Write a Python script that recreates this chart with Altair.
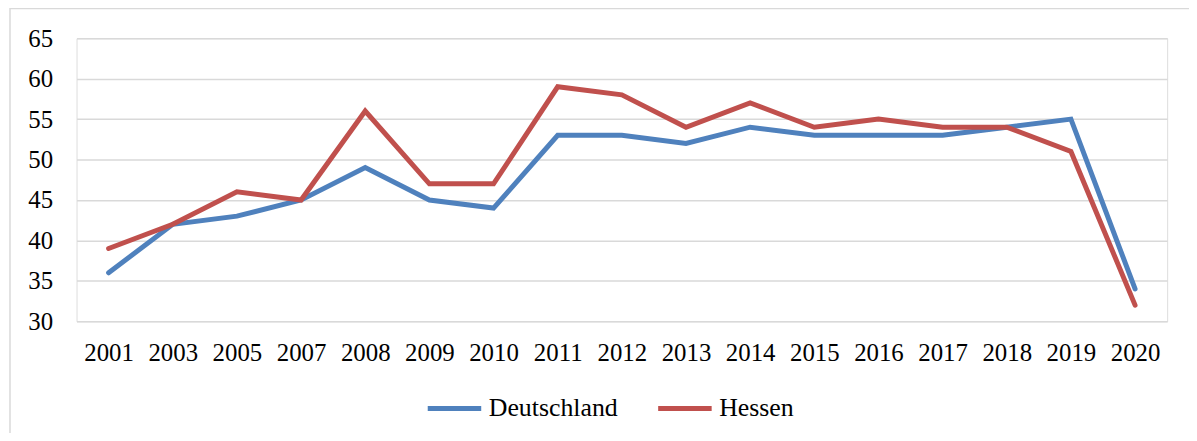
import altair as alt
import pandas as pd

years = ["2001", "2003", "2005", "2007", "2008", "2009", "2010", "2011", "2012",
         "2013", "2014", "2015", "2016", "2017", "2018", "2019", "2020"]
deutschland = [36, 42, 43, 45, 49, 45, 44, 53, 53, 52, 54, 53, 53, 53, 54, 55, 34]
hessen = [39, 42, 46, 45, 56, 47, 47, 59, 58, 54, 57, 54, 55, 54, 54, 51, 32]
series = ["Deutschland", "Hessen"]
colors = ["#4F81BD", "#C0504D"]

rows = []
for y, d, h in zip(years, deutschland, hessen):
    rows.append({"Jahr": y, "Region": series[0], "Wert": d})
    rows.append({"Jahr": y, "Region": series[1], "Wert": h})
df = pd.DataFrame(rows)

FONT = "Liberation Serif"

lines = alt.Chart(df).mark_line(strokeWidth=5, strokeJoin="miter", strokeCap="round").encode(
    x=alt.X("Jahr:O", sort=years,
            scale=alt.Scale(type="point", padding=0.5),
            axis=alt.Axis(title=None, labelAngle=0, ticks=False, domain=False, grid=False,
                          labelFont=FONT, labelFontSize=25, labelColor="#000000",
                          labelPadding=19)),
    y=alt.Y("Wert:Q", scale=alt.Scale(domain=[30, 65], nice=False, zero=False),
            axis=alt.Axis(title=None, values=[30, 35, 40, 45, 50, 55, 60, 65],
                          ticks=False, domain=False, gridColor="#d9d9d9", gridWidth=1.5,
                          labelFont=FONT, labelFontSize=25, labelColor="#000000",
                          labelPadding=24)),
    color=alt.Color("Region:N", sort=series,
                    scale=alt.Scale(domain=series, range=colors),
                    legend=alt.Legend(title=None, orient="none", direction="horizontal",
                                      legendX=351, legendY=343, padding=0,
                                      symbolType="stroke", symbolSize=2900,
                                      symbolStrokeWidth=5, labelFont=FONT,
                                      labelFontSize=26, labelColor="#000000",
                                      labelOffset=5, columnPadding=30)),
)

frame = alt.Chart(alt.Data(values=[{}])).mark_rect(
    filled=False, stroke="#d9d9d9", strokeWidth=1.5
).encode(
    x=alt.value(-67), x2=alt.value(1150), y=alt.value(-30), y2=alt.value(430)
)

chart = alt.layer(frame, lines).properties(
    width=1098, height=285,
    autosize=alt.AutoSizeParams(type="none"),
    padding={"left": 69, "top": 29, "right": 22, "bottom": 111},
).configure_view(stroke=None).configure(background="white")

chart.save("out.html", embed_options={"renderer": "svg", "actions": False})
